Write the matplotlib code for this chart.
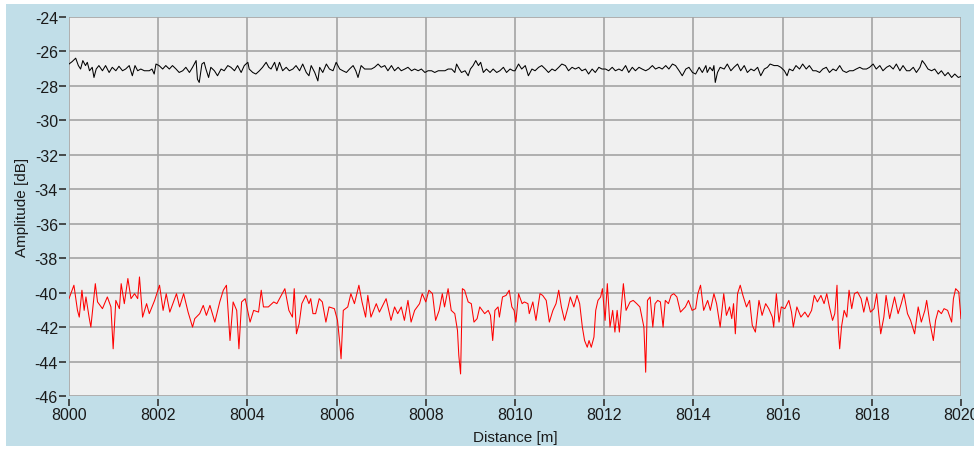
import numpy as np
import matplotlib.pyplot as plt
from matplotlib.patches import Rectangle

plt.rcParams["font.family"] = ["Liberation Sans", "DejaVu Sans"]
plt.rcParams["axes.unicode_minus"] = False

# Distanz-Offsets (m nach 8000) und Amplituden (dB)
x_base = 8000.0

black_off = [
    0.00, 0.07, 0.15, 0.21, 0.26, 0.31, 0.37, 0.41, 0.46, 0.52, 0.56, 0.61, 0.67, 0.75, 0.82, 0.90, 0.97,
    1.05, 1.12, 1.20, 1.27, 1.35, 1.42, 1.48, 1.54, 1.61, 1.69, 1.80, 1.86, 1.91, 1.95,
    2.02, 2.10, 2.17, 2.25, 2.32, 2.40, 2.47, 2.55, 2.62, 2.70, 2.77, 2.85, 2.88, 2.92, 2.98,
    3.03, 3.07, 3.13, 3.18, 3.26, 3.33, 3.41, 3.48, 3.56, 3.63, 3.71, 3.78, 3.86, 3.93,
    4.01, 4.04, 4.12, 4.19, 4.27, 4.34, 4.42, 4.48, 4.53, 4.61, 4.66, 4.72, 4.79, 4.87, 4.94,
    5.02, 5.09, 5.17, 5.24, 5.32, 5.38, 5.43, 5.51, 5.58, 5.62, 5.69, 5.77, 5.84, 5.92, 5.99,
    6.07, 6.14, 6.22, 6.29, 6.37, 6.43, 6.48, 6.55, 6.63, 6.70, 6.78, 6.85, 6.93,
    7.00, 7.08, 7.15, 7.23, 7.30, 7.38, 7.45, 7.53, 7.60, 7.68, 7.75, 7.83, 7.90, 7.98,
    8.05, 8.13, 8.20, 8.28, 8.35, 8.43, 8.50, 8.58, 8.65, 8.69, 8.75, 8.80, 8.88, 8.95,
    9.00, 9.06, 9.12, 9.18, 9.23, 9.29, 9.36, 9.44, 9.51, 9.59, 9.66, 9.74, 9.81, 9.89, 9.96,
    10.00, 10.08, 10.15, 10.23, 10.30, 10.38, 10.45, 10.53, 10.60, 10.68, 10.75, 10.83, 10.90, 10.98,
    11.05, 11.13, 11.20, 11.28, 11.35, 11.43, 11.50, 11.58, 11.65, 11.73, 11.80, 11.88, 11.95,
    12.03, 12.10, 12.18, 12.25, 12.33, 12.40, 12.48, 12.55, 12.63, 12.70, 12.78, 12.85, 12.93,
    13.00, 13.08, 13.15, 13.23, 13.30, 13.38, 13.45, 13.53, 13.60, 13.68, 13.75, 13.83, 13.90, 13.98,
    14.05, 14.13, 14.20, 14.28, 14.31, 14.37, 14.43, 14.46, 14.49, 14.54, 14.60, 14.69, 14.76, 14.84, 14.91, 14.99,
    15.06, 15.14, 15.21, 15.29, 15.36, 15.44, 15.51, 15.59, 15.66, 15.72, 15.81, 15.89, 15.96,
    16.04, 16.10, 16.15, 16.23, 16.30, 16.38, 16.45, 16.53, 16.60, 16.68, 16.75, 16.83, 16.90, 16.98,
    17.05, 17.13, 17.20, 17.28, 17.35, 17.43, 17.50, 17.58, 17.65, 17.73, 17.80, 17.88, 17.95,
    18.03, 18.10, 18.18, 18.25, 18.33, 18.40, 18.48, 18.55, 18.63, 18.70, 18.78, 18.85, 18.93,
    19.00, 19.08, 19.13, 19.19, 19.26, 19.34, 19.41, 19.49, 19.56, 19.64, 19.71, 19.79, 19.86, 19.94, 20.00,
]
black_db = [
    -26.73, -26.59, -26.39, -26.82, -27.02, -26.53, -26.82, -26.63, -27.12, -26.92, -27.51, -27.02, -26.82, -27.12, -26.82, -27.22, -26.92,
    -27.12, -26.86, -27.12, -27.02, -26.82, -27.41, -26.82, -27.12, -27.02, -27.12, -27.12, -27.02, -27.31, -26.73,
    -26.82, -27.02, -26.82, -27.02, -26.82, -27.02, -27.22, -27.12, -26.92, -27.22, -26.92, -26.53, -27.61, -27.80, -26.73,
    -26.63, -27.02, -27.51, -26.92, -27.12, -27.41, -27.02, -27.12, -26.82, -26.92, -27.12, -26.82, -27.22, -26.82,
    -26.63, -27.02, -27.22, -27.31, -27.12, -26.92, -26.63, -26.92, -27.02, -26.63, -27.12, -26.63, -27.12, -26.92, -27.12,
    -27.02, -26.82, -27.12, -26.73, -27.22, -27.41, -26.82, -27.22, -27.71, -26.92, -27.22, -26.73, -27.02, -27.12, -26.63,
    -27.02, -27.12, -27.22, -27.02, -26.82, -27.12, -27.51, -26.82, -27.02, -27.02, -27.02, -26.92, -26.73,
    -26.92, -26.82, -27.12, -26.82, -27.12, -26.92, -27.12, -27.02, -26.92, -27.12, -27.02, -27.12, -27.02, -27.22,
    -27.12, -27.12, -27.22, -27.12, -27.12, -27.12, -27.02, -27.02, -27.22, -26.73, -27.02, -27.22, -27.12, -27.41,
    -27.02, -26.82, -26.53, -26.82, -26.63, -27.22, -27.02, -27.22, -27.02, -27.22, -27.12, -26.92, -27.22, -27.02, -27.12,
    -27.12, -26.73, -27.02, -26.82, -27.41, -27.02, -27.12, -26.92, -26.82, -27.02, -27.22, -27.02, -27.12, -26.92,
    -26.73, -26.82, -27.12, -26.92, -27.02, -26.92, -27.12, -27.02, -27.31, -27.02, -27.22, -26.92, -27.02,
    -27.02, -27.12, -26.92, -27.12, -27.02, -27.12, -26.82, -27.22, -26.92, -27.12, -26.92, -27.02, -27.12,
    -27.02, -26.82, -27.02, -26.92, -27.02, -26.82, -27.02, -26.73, -26.82, -27.12, -27.41, -27.02, -26.92, -27.22,
    -27.31, -26.92, -27.22, -26.82, -27.22, -26.92, -27.12, -26.82, -27.80, -27.22, -26.92, -27.02, -26.73, -27.12, -26.92, -26.73,
    -27.12, -26.82, -27.22, -27.02, -27.12, -26.92, -27.41, -27.02, -26.92, -26.73, -26.82, -26.82, -26.92,
    -27.12, -27.41, -27.02, -27.12, -26.82, -27.02, -26.73, -27.02, -26.82, -27.12, -27.12, -27.22, -27.02, -26.92,
    -27.22, -27.02, -27.12, -26.82, -27.12, -27.22, -27.12, -27.12, -27.02, -26.92, -27.02, -27.02, -26.92,
    -26.73, -27.02, -26.82, -27.12, -26.92, -26.82, -27.02, -26.73, -27.12, -26.82, -27.12, -27.12, -26.92,
    -27.22, -26.92, -26.53, -26.73, -27.02, -27.12, -27.02, -27.31, -27.12, -27.41, -27.22, -27.51, -27.31, -27.51, -27.45,
]

red_off = [
    0.00, 0.11, 0.19, 0.23, 0.29, 0.34, 0.38, 0.45, 0.49, 0.59, 0.64, 0.75, 0.86, 0.94, 0.99,
    1.05, 1.13, 1.17, 1.24, 1.32, 1.39, 1.47, 1.54, 1.58, 1.65, 1.74, 1.80, 1.92,
    2.03, 2.11, 2.18, 2.26, 2.41, 2.48, 2.57, 2.67, 2.77, 2.82, 2.93,
    3.01, 3.08, 3.16, 3.27, 3.38, 3.46, 3.53, 3.61, 3.68, 3.76, 3.81, 3.87, 3.95,
    4.06, 4.14, 4.25, 4.31, 4.36, 4.47, 4.59, 4.66, 4.84, 4.93,
    5.01, 5.05, 5.10, 5.16, 5.22, 5.31, 5.38, 5.42, 5.47, 5.53, 5.61, 5.68, 5.76, 5.83, 5.95,
    6.02, 6.08, 6.10, 6.15, 6.25, 6.32, 6.40, 6.50, 6.57, 6.65, 6.70, 6.77, 6.89, 6.96,
    7.11, 7.22, 7.30, 7.37, 7.45, 7.52, 7.60, 7.67, 7.75, 7.86, 7.92,
    8.00, 8.07, 8.15, 8.22, 8.30, 8.37, 8.42, 8.50, 8.57, 8.65, 8.71, 8.74, 8.78, 8.82, 8.87, 8.95,
    9.02, 9.08, 9.15, 9.21, 9.32, 9.40, 9.45, 9.50, 9.55, 9.62, 9.65, 9.72, 9.80, 9.87, 9.93, 9.98,
    10.02, 10.08, 10.16, 10.21, 10.29, 10.32, 10.40, 10.47, 10.56, 10.62, 10.70, 10.77, 10.85, 10.92, 10.98,
    11.04, 11.11, 11.19, 11.24, 11.32, 11.39, 11.45, 11.51, 11.56, 11.62, 11.66, 11.71, 11.77, 11.81, 11.86, 11.92, 11.96,
    12.02, 12.07, 12.13, 12.19, 12.24, 12.29, 12.34, 12.39, 12.43, 12.49, 12.58, 12.65, 12.73, 12.80, 12.86, 12.89, 12.93, 12.97,
    13.03, 13.09, 13.14, 13.20, 13.26, 13.32, 13.37, 13.44, 13.50, 13.56, 13.63, 13.71, 13.82, 13.89, 13.97,
    14.05, 14.10, 14.16, 14.23, 14.32, 14.38, 14.46, 14.52, 14.60, 14.68, 14.74, 14.81, 14.86, 14.90, 14.94, 14.99,
    15.05, 15.11, 15.19, 15.26, 15.32, 15.39, 15.47, 15.54, 15.62, 15.69, 15.77, 15.80, 15.86, 15.92, 15.97,
    16.05, 16.14, 16.20, 16.24, 16.32, 16.41, 16.50, 16.57, 16.65, 16.71, 16.78, 16.86, 16.93, 16.99,
    17.05, 17.12, 17.17, 17.22, 17.25, 17.28, 17.32, 17.38, 17.44, 17.49, 17.55, 17.61, 17.68, 17.76, 17.82, 17.89, 17.97,
    18.05, 18.11, 18.17, 18.20, 18.27, 18.32, 18.40, 18.51, 18.59, 18.66, 18.72, 18.80, 18.87, 18.96,
    19.04, 19.11, 19.19, 19.23, 19.30, 19.38, 19.43, 19.49, 19.56, 19.62, 19.70, 19.79, 19.83, 19.88, 19.95, 20.00,
]
red_db = [
    -40.35, -39.57, -41.03, -41.42, -39.86, -41.03, -40.25, -41.42, -42.00, -39.48, -40.54, -40.93, -40.25, -40.83, -43.26,
    -40.45, -40.93, -39.48, -40.64, -39.18, -40.35, -40.06, -40.35, -39.09, -41.42, -40.64, -41.22, -40.45,
    -39.57, -41.03, -40.06, -41.13, -40.06, -40.83, -40.06, -41.13, -42.00, -41.51, -41.22,
    -40.74, -41.32, -40.74, -41.71, -40.54, -39.86, -39.57, -42.78, -40.54, -41.03, -43.26, -40.54, -40.35,
    -41.71, -41.03, -41.13, -39.86, -40.83, -40.83, -40.54, -40.64, -39.77, -41.03,
    -41.42, -39.77, -42.39, -41.81, -40.64, -40.16, -40.64, -40.35, -41.22, -41.22, -40.35, -40.54, -41.71, -40.83, -40.93,
    -41.61, -43.17, -43.84, -41.03, -40.83, -40.06, -40.64, -39.57, -40.54, -41.42, -40.16, -41.42, -40.64, -41.13,
    -40.35, -41.61, -40.83, -41.22, -40.83, -41.61, -40.45, -41.71, -41.03, -40.64, -40.06,
    -40.54, -39.86, -40.06, -41.61, -41.03, -40.06, -40.83, -39.77, -41.03, -41.22, -42.19, -43.65, -44.72, -39.77, -39.86, -40.54,
    -40.64, -41.71, -41.51, -40.83, -41.22, -41.03, -41.32, -42.78, -41.03, -40.83, -41.42, -40.25, -40.16, -39.86, -40.83, -41.03,
    -41.71, -40.06, -40.64, -40.54, -40.64, -41.22, -40.54, -41.61, -40.06, -40.16, -40.45, -41.71, -41.03, -40.64, -39.86,
    -40.83, -41.61, -40.83, -40.25, -40.83, -40.16, -40.64, -42.00, -42.78, -43.17, -42.78, -43.17, -42.58, -41.03, -40.45, -40.25, -39.77,
    -41.61, -39.48, -42.00, -41.03, -42.29, -41.03, -42.29, -40.64, -39.48, -41.03, -40.54, -40.45, -40.64, -40.83, -41.61, -42.00, -44.62, -40.45,
    -40.25, -42.00, -40.64, -40.45, -40.54, -42.00, -40.45, -40.64, -40.16, -40.06, -40.25, -41.13, -40.83, -40.45, -41.03,
    -40.93, -40.06, -39.57, -41.03, -40.45, -41.03, -40.06, -40.64, -42.00, -40.06, -41.32, -40.83, -41.51, -40.64, -42.39, -40.06,
    -39.57, -40.16, -40.83, -40.45, -41.90, -42.29, -40.45, -41.32, -40.64, -40.93, -41.42, -42.00, -40.06, -41.71, -40.83,
    -40.93, -40.45, -41.13, -42.00, -40.83, -41.42, -41.13, -41.42, -41.03, -40.16, -40.54, -40.16, -40.64, -40.06,
    -40.83, -41.61, -41.22, -39.57, -42.19, -43.26, -42.00, -41.03, -41.42, -39.86, -40.93, -40.06, -39.96, -40.35, -41.13, -40.25, -41.13,
    -40.93, -40.06, -41.61, -42.39, -41.42, -40.16, -41.51, -40.25, -41.22, -40.64, -40.06, -41.22, -41.61, -42.39,
    -40.83, -41.71, -41.03, -40.45, -41.71, -42.78, -41.61, -41.03, -41.22, -40.93, -41.03, -41.71, -40.35, -39.77, -39.96, -41.51,
]

y_ticks = list(range(-46, -23, 2))
x_ticks = list(range(8000, 8021, 2))

bg_blue = "#c1dee8"
plot_grey = "#f0f0f0"
grid_grey = "#a4a4a4"

fig = plt.figure(figsize=(9.74, 4.52), dpi=100)
fig.patch.set_facecolor("white")
# blauer Rahmen mit schmalem weissem Rand
frame = Rectangle((6 / 974, 5 / 452), 968 / 974, 442 / 452,
                  transform=fig.transFigure, facecolor=bg_blue,
                  edgecolor="none", zorder=-10)
fig.patches.append(frame)

ax = fig.add_axes([69 / 974, 1 - 397 / 452, (961 - 69) / 974, (397 - 18) / 452])
ax.set_zorder(1)
ax.set_facecolor(plot_grey)

ax.plot(x_base + np.array(black_off), black_db, color="black", lw=0.75)
ax.plot(x_base + np.array(red_off), red_db, color="#ff0000", lw=0.75)

ax.set_xlim(8000, 8020)
ax.set_ylim(-46, -24)
ax.set_xticks(x_ticks)
ax.set_yticks(y_ticks)
ax.grid(True, color=grid_grey, lw=1.2)
ax.set_axisbelow(True)

for s in ax.spines.values():
    s.set_visible(False)
ax.spines["left"].set_position(("outward", 2))
ax.spines["bottom"].set_position(("outward", 2))

ax.tick_params(axis="both", direction="out", length=5, width=1.2,
               color="#303030", labelsize=11.5, labelcolor="#1a1a1a", pad=1)

ax.set_xlabel("Distance [m]", fontsize=11, color="#1a1a1a", labelpad=6)
ax.set_ylabel("Amplitude [dB]", fontsize=11, color="#1a1a1a", labelpad=4)

plt.savefig("out.png", dpi=100, facecolor=fig.get_facecolor())
